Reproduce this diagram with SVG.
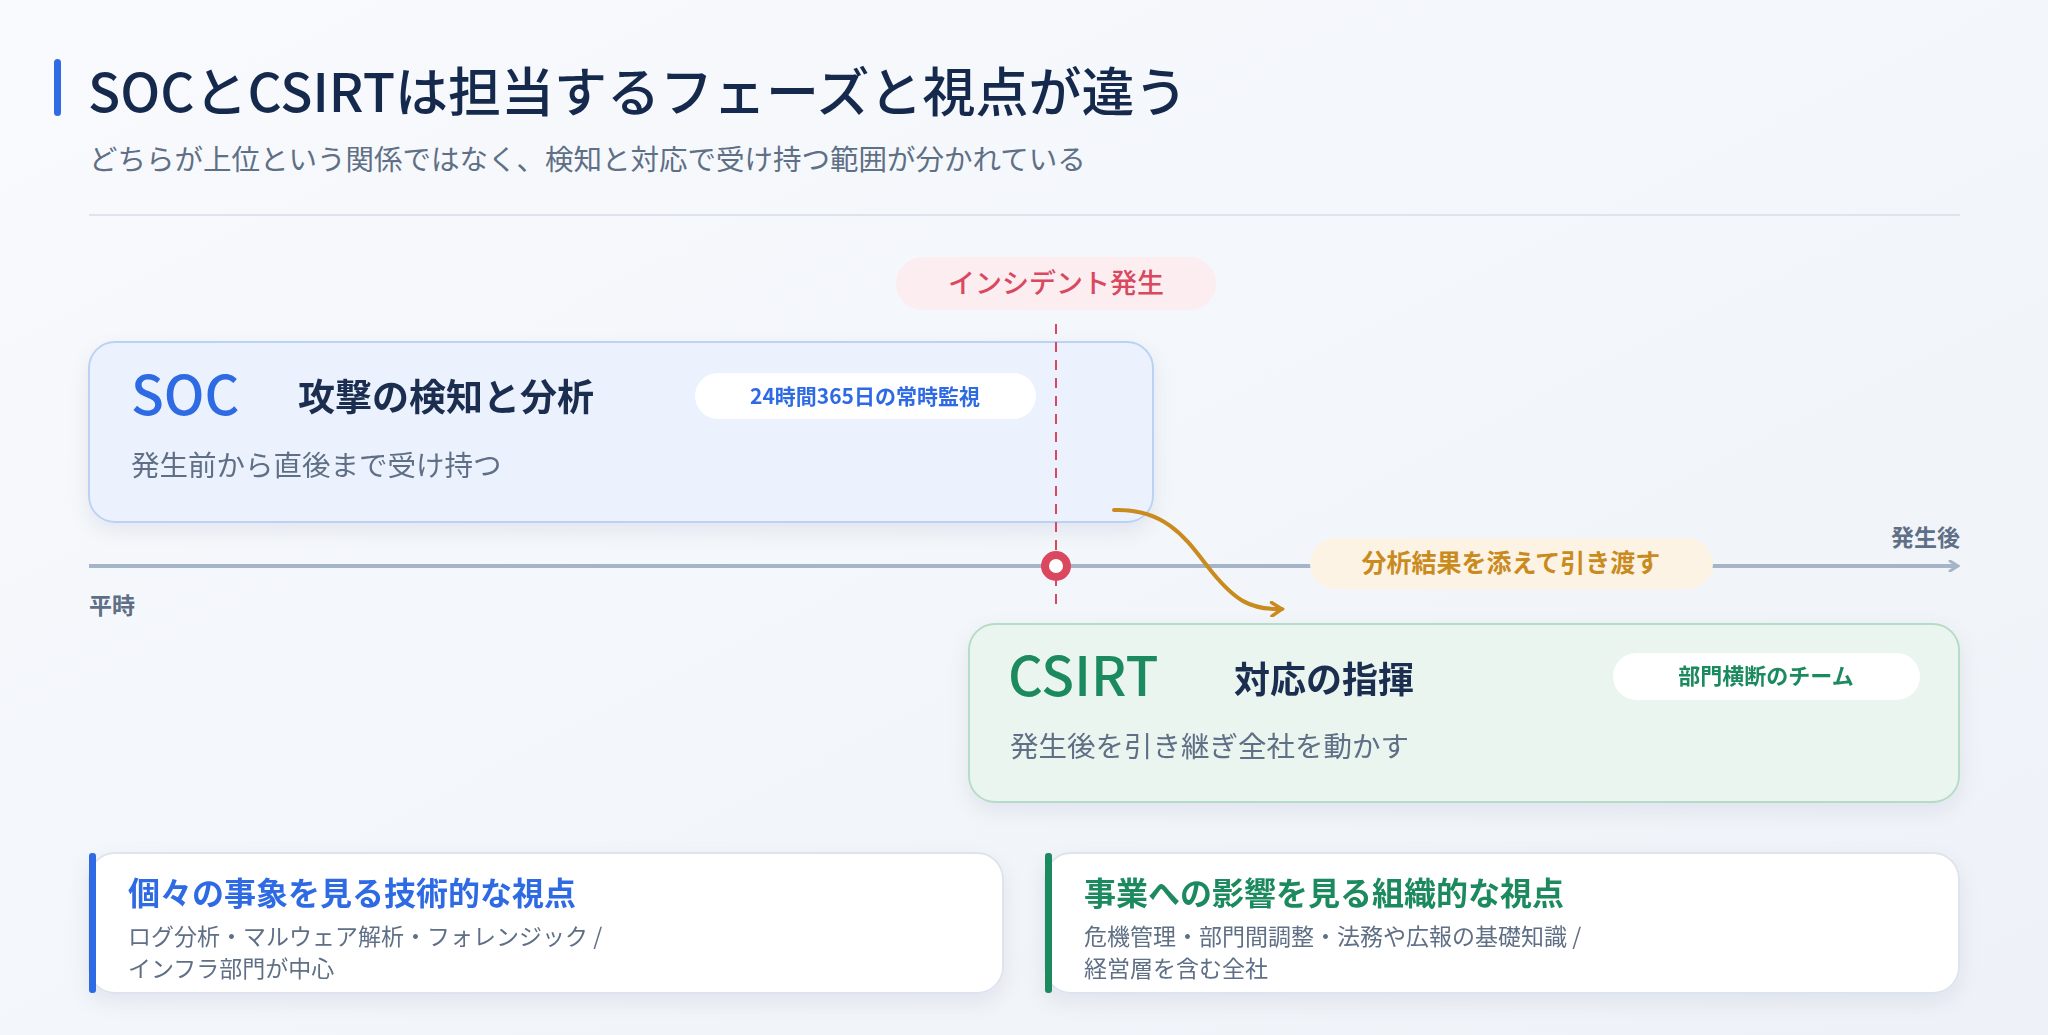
<svg xmlns="http://www.w3.org/2000/svg" width="2048" height="1035" viewBox="0 0 2048 1035">
<defs>
<linearGradient id="bg" x1="0" y1="0" x2="1" y2="1"><stop offset="0" stop-color="#f8fafd"/><stop offset="1" stop-color="#eef2f8"/></linearGradient>
<filter id="sh" x="-10%" y="-20%" width="120%" height="150%"><feDropShadow dx="0" dy="8" stdDeviation="10" flood-color="#1b2d4f" flood-opacity="0.07"/></filter>
<marker id="axArrow" viewBox="0 0 12 12" refX="10" refY="6" markerWidth="12" markerHeight="12" markerUnits="userSpaceOnUse" orient="auto"><path d="M2 1 L10 6 L2 11" fill="none" stroke="#a6b4c8" stroke-width="3" stroke-linecap="round"/></marker>
<marker id="orArrow" viewBox="0 0 14 14" refX="11" refY="7" markerWidth="16" markerHeight="16" markerUnits="userSpaceOnUse" orient="auto"><path d="M2 1 L11 7 L2 13" fill="none" stroke="#c98a1e" stroke-width="3" stroke-linecap="round"/></marker>
</defs>
<style>
text{font-family:"Noto Sans CJK JP","Noto Sans",sans-serif}
.b{font-weight:700}
.m{font-weight:500}
.grey{fill:#5f6f86}
.dark{fill:#1b2d4f}
</style>
<rect width="2048" height="1035" fill="url(#bg)"/>
<g id="header">
<rect x="54" y="59" width="7" height="57" rx="3.5" fill="#2f6be4"/>
<text x="88" y="112" font-size="53" class="m" fill="#15294d">SOCとCSIRTは担当するフェーズと視点が違う</text>
<text x="89" y="170" font-size="28.5" class="grey">どちらが上位という関係ではなく、検知と対応で受け持つ範囲が分かれている</text>
<line x1="89" y1="215" x2="1960" y2="215" stroke="#dde4ee" stroke-width="2"/>
</g>
<g id="incident">
<rect x="896" y="257" width="320" height="53" rx="26.5" fill="#fcedf0"/>
<text x="1056" y="293" font-size="27" fill="#d9485f" text-anchor="middle" class="m">インシデント発生</text>
</g>
<g id="soc" filter="url(#sh)">
<rect x="89" y="342" width="1064" height="180" rx="26" fill="#ebf2fe" stroke="#bcd2f5" stroke-width="2"/>
<text x="131" y="415" font-size="54" class="m" fill="#2f6be4">SOC</text>
<text x="298" y="411" font-size="37" class="b dark">攻撃の検知と分析</text>
<rect x="695" y="373" width="341" height="46" rx="23" fill="#ffffff"/>
<text x="865" y="404" font-size="21" class="b" fill="#2f6be4" text-anchor="middle">24時間365日の常時監視</text>
<text x="131" y="476" font-size="28.5" class="grey">発生前から直後まで受け持つ</text>
</g>
<g id="csirt" filter="url(#sh)">
<rect x="969" y="624" width="990" height="178" rx="26" fill="#eaf5ef" stroke="#b5dcc7" stroke-width="2"/>
<text x="1008" y="696" font-size="54" class="m" fill="#1f8a5e">CSIRT</text>
<text x="1234" y="693" font-size="36" class="b dark">対応の指揮</text>
<rect x="1613" y="653" width="307" height="47" rx="23.5" fill="#ffffff"/>
<text x="1766" y="684" font-size="22" class="b" fill="#1f8a5e" text-anchor="middle">部門横断のチーム</text>
<text x="1010" y="757" font-size="28.5" class="grey">発生後を引き継ぎ全社を動かす</text>
</g>
<g id="connectors">
<line x1="89" y1="566" x2="1958" y2="566" stroke="#a6b4c8" stroke-width="4" marker-end="url(#axArrow)"/>
<line x1="1056" y1="324" x2="1056" y2="607" stroke="#d9485f" stroke-width="2" stroke-dasharray="10 8"/>
<path d="M1114 510 C1170 508 1190 545 1212 572 C1235 600 1250 610 1282 609" fill="none" stroke="#c98a1e" stroke-width="4" stroke-linecap="round" marker-end="url(#orArrow)"/>
</g>
<g id="axis-labels">
<circle cx="1056" cy="566" r="11" fill="#ffffff" stroke="#d9485f" stroke-width="8"/>
<text x="89" y="614" font-size="23" class="b grey">平時</text>
<text x="1960" y="546" font-size="23" class="b grey" text-anchor="end">発生後</text>
<rect x="1310" y="538" width="403" height="51" rx="25.5" fill="#fcf3e4"/>
<text x="1511" y="572" font-size="25" class="b" fill="#c98a1e" text-anchor="middle">分析結果を添えて引き渡す</text>
</g>
<g id="card-tech" filter="url(#sh)">
<rect x="89" y="853" width="914" height="140" rx="26" fill="#ffffff" stroke="#dde4ee" stroke-width="2"/>
<rect x="89" y="853" width="7" height="140" rx="3" fill="#2f6be4"/>
<text x="128" y="905" font-size="32" class="b" fill="#2f6be4">個々の事象を見る技術的な視点</text>
<text x="128" y="945" font-size="23" class="grey">ログ分析・マルウェア解析・フォレンジック /</text>
<text x="128" y="977" font-size="23" class="grey">インフラ部門が中心</text>
</g>
<g id="card-org" filter="url(#sh)">
<rect x="1045" y="853" width="914" height="140" rx="26" fill="#ffffff" stroke="#dde4ee" stroke-width="2"/>
<rect x="1045" y="853" width="7" height="140" rx="3" fill="#1f8a5e"/>
<text x="1084" y="905" font-size="32" class="b" fill="#1f8a5e">事業への影響を見る組織的な視点</text>
<text x="1084" y="945" font-size="23" class="grey">危機管理・部門間調整・法務や広報の基礎知識 /</text>
<text x="1084" y="977" font-size="23" class="grey">経営層を含む全社</text>
</g>
</svg>
